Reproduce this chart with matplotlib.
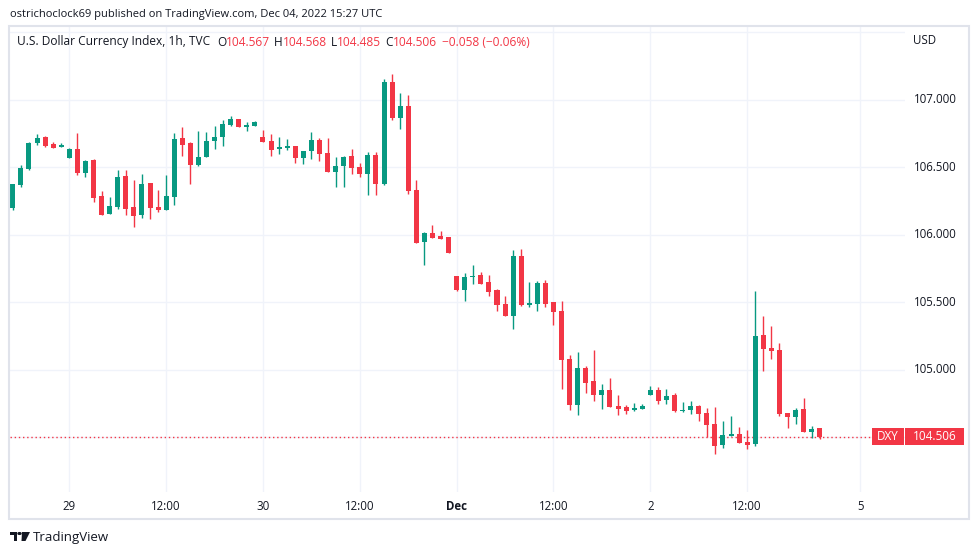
import numpy as np
import matplotlib
matplotlib.use("Agg")
import matplotlib.pyplot as plt
from matplotlib.patches import Rectangle, Polygon, Circle
from matplotlib.transforms import blended_transform_factory

# hourly DXY candles, Nov 28 17:00 -> Dec 2 21:00
opens = [106.200, 106.370, 106.489, 106.681, 106.726, 106.674, 106.652, 106.570, 106.637, 106.459,
         106.556, 106.289, 106.156, 106.207, 106.437, 106.207, 106.148, 106.385, 106.207, 106.185,
         106.281, 106.719, 106.681, 106.519, 106.578, 106.696, 106.726, 106.815, 106.859, 106.800,
         106.807, 106.726, 106.696, 106.637, 106.644, 106.659, 106.570, 106.622, 106.704, 106.607,
         106.467, 106.511, 106.585, 106.504, 106.452, 106.593, 106.378, 107.133, 106.867, 106.956,
         106.333, 105.948, 106.015, 105.993, 105.985, 105.696, 105.593, 105.689, 105.704, 105.652,
         105.593, 105.489, 105.400, 105.844, 105.481, 105.489, 105.644, 105.504, 105.437, 105.081,
         104.741, 105.015, 104.919, 104.815, 104.852, 104.733, 104.726, 104.704, 104.711, 104.815,
         104.852, 104.778, 104.815, 104.696, 104.704, 104.733, 104.681, 104.600, 104.444, 104.511,
         104.526, 104.467, 104.452, 105.259, 105.163, 105.148, 104.681, 104.652, 104.711, 104.541,
         104.567]
highs = [106.378, 106.519, 106.689, 106.748, 106.733, 106.689, 106.681, 106.644, 106.756, 106.556,
         106.563, 106.326, 106.281, 106.481, 106.481, 106.407, 106.452, 106.385, 106.333, 106.444,
         106.756, 106.800, 106.689, 106.770, 106.763, 106.807, 106.852, 106.881, 106.859, 106.837,
         106.844, 106.778, 106.748, 106.726, 106.711, 106.659, 106.622, 106.763, 106.719, 106.719,
         106.578, 106.585, 106.637, 106.533, 106.615, 106.615, 107.156, 107.193, 107.052, 107.037,
         106.407, 106.022, 106.074, 106.030, 105.985, 105.696, 105.719, 105.778, 105.726, 105.704,
         105.600, 105.548, 105.889, 105.896, 105.652, 105.659, 105.667, 105.504, 105.511, 105.111,
         105.133, 105.030, 105.148, 104.896, 104.941, 104.815, 104.741, 104.756, 104.748, 104.881,
         104.874, 104.859, 104.830, 104.763, 104.770, 104.741, 104.719, 104.726, 104.622, 104.659,
         104.578, 104.556, 105.585, 105.400, 105.326, 105.200, 104.681, 104.719, 104.793, 104.585,
         104.568]
lows = [106.185, 106.356, 106.481, 106.667, 106.652, 106.644, 106.652, 106.570, 106.444, 106.430,
        106.244, 106.148, 106.156, 106.193, 106.148, 106.059, 106.126, 106.119, 106.170, 106.185,
        106.222, 106.585, 106.378, 106.511, 106.578, 106.637, 106.659, 106.807, 106.800, 106.770,
        106.807, 106.689, 106.585, 106.600, 106.630, 106.533, 106.526, 106.563, 106.548, 106.467,
        106.356, 106.356, 106.452, 106.430, 106.296, 106.296, 106.370, 106.852, 106.785, 106.304,
        105.941, 105.778, 105.978, 105.970, 105.867, 105.585, 105.511, 105.637, 105.637, 105.548,
        105.437, 105.400, 105.304, 105.474, 105.467, 105.437, 105.467, 105.333, 104.859, 104.704,
        104.667, 104.830, 104.770, 104.711, 104.726, 104.667, 104.674, 104.696, 104.711, 104.815,
        104.748, 104.748, 104.689, 104.689, 104.674, 104.622, 104.504, 104.378, 104.422, 104.511,
        104.459, 104.415, 104.437, 104.993, 105.081, 104.659, 104.570, 104.600, 104.541, 104.496,
        104.485]
closes = [106.378, 106.496, 106.681, 106.719, 106.659, 106.644, 106.667, 106.637, 106.459, 106.548,
          106.274, 106.148, 106.215, 106.430, 106.193, 106.141, 106.378, 106.200, 106.185, 106.289,
          106.711, 106.667, 106.519, 106.578, 106.696, 106.726, 106.822, 106.859, 106.800, 106.815,
          106.837, 106.689, 106.630, 106.652, 106.659, 106.570, 106.622, 106.704, 106.600, 106.467,
          106.511, 106.578, 106.496, 106.452, 106.593, 106.378, 107.133, 106.867, 106.956, 106.326,
          105.941, 106.015, 105.978, 105.970, 105.867, 105.593, 105.689, 105.696, 105.637, 105.578,
          105.481, 105.400, 105.844, 105.481, 105.496, 105.644, 105.489, 105.430, 105.074, 104.741,
          105.015, 104.904, 104.815, 104.852, 104.726, 104.711, 104.696, 104.719, 104.733, 104.852,
          104.770, 104.807, 104.696, 104.704, 104.733, 104.674, 104.593, 104.437, 104.519, 104.526,
          104.459, 104.444, 105.252, 105.156, 105.141, 104.674, 104.652, 104.704, 104.541, 104.563,
          104.506]

time_ticks = [7, 19, 31, 43, 55, 67, 79, 91, 105]
time_labels = ["29", "12:00", "30", "12:00", "Dec", "12:00", "2", "12:00", "5"]
price_ticks = [105.0, 105.5, 106.0, 106.5, 107.0]
grid_prices = [104.5, 105.0, 105.5, 106.0, 106.5, 107.0, 107.5]
last_price = 104.506

UP = "#089981"
DOWN = "#f23645"
TXT = "#131722"
GRID = "#f0f3fa"
BORDER = "#e0e3eb"

plt.rcParams['font.family'] = ['Open Sans', 'DejaVu Sans']

W, H = 979, 555
fig = plt.figure(figsize=(W / 100, H / 100), dpi=100)
fig.patch.set_facecolor("white")


def fx(px):
    return px / W


def fy(py):
    return 1 - py / H


ax = fig.add_axes([fx(10), fy(492), fx(905) - fx(10), fy(26) - fy(492)])
ax.set_xlim(-0.35, 110.56)
ax.set_ylim(104.096, 107.548)
for s in ax.spines.values():
    s.set_visible(False)
ax.set_xticks(time_ticks)
ax.set_yticks(grid_prices)
ax.tick_params(length=0, labelleft=False, labelbottom=False)
ax.grid(True, color=GRID, lw=1)
ax.set_axisbelow(True)

o = np.array(opens)
h = np.array(highs)
l = np.array(lows)
c = np.array(closes)
idx = np.arange(len(o))
cols = [UP if cc >= oo else DOWN for oo, cc in zip(o, c)]
ax.vlines(idx, l, h, colors=cols, lw=1, zorder=2)
body = np.maximum(np.abs(c - o), 0.008)
ax.bar(idx, body, bottom=np.minimum(o, c), width=0.62, color=cols, lw=0, zorder=3)

ax.axhline(last_price, color=DOWN, lw=1, ls=(0, (1, 2)), zorder=1)

# time axis labels
bt = blended_transform_factory(ax.transData, fig.transFigure)
for t, lab in zip(time_ticks, time_labels):
    ax.text(t, fy(506), lab, transform=bt, ha="center", va="center",
            fontsize=8.3, color=TXT, fontweight="bold" if lab == "Dec" else "normal",
            clip_on=False)

# price scale labels
bp = blended_transform_factory(fig.transFigure, ax.transData)
for p in price_ticks:
    fig.text(fx(914), p, "%.3f" % p, transform=bp, ha="left", va="center",
             fontsize=8.3, color=TXT)
fig.text(fx(913), fy(40), "USD", ha="left", va="center", fontsize=8.3, color=TXT)

# last price tag
fig.patches.append(Rectangle((fx(872), fy(445)), fx(904) - fx(872), fy(428) - fy(445),
                             transform=fig.transFigure, color=DOWN, lw=0, zorder=5))
fig.patches.append(Rectangle((fx(905), fy(445)), fx(964) - fx(905), fy(428) - fy(445),
                             transform=fig.transFigure, color=DOWN, lw=0, zorder=5))
fig.text(fx(888), fy(436.5), "DXY", ha="center", va="center", fontsize=8.5, color="white", zorder=6)
fig.text(fx(934.5), fy(436.5), "%.3f" % last_price, ha="center", va="center",
         fontsize=8.5, color="white", zorder=6)

# pane border
fig.patches.append(Rectangle((fx(9), fy(519)), fx(969) - fx(9), fy(26) - fy(519),
                             transform=fig.transFigure, fill=False, edgecolor=BORDER,
                             lw=1.5, zorder=4))

# header
fig.text(fx(10), fy(14), "ostrichoclock69 published on TradingView.com, Dec 04, 2022 15:27 UTC",
         ha="left", va="center", fontsize=8.0, color=TXT)

# legend line, drawn piece by piece
fig.canvas.draw()
rend = fig.canvas.get_renderer()
pieces = [("U.S. Dollar Currency Index, 1h, TVC", TXT, 7), ("O", TXT, 0), ("104.567", DOWN, 4),
          ("H", TXT, 0), ("104.568", DOWN, 4), ("L", TXT, 0), ("104.485", DOWN, 4),
          ("C", TXT, 0), ("104.506", DOWN, 5), ("\u22120.058 (\u22120.06%)", DOWN, 0)]
xpos = 17
for txt, col, gap in pieces:
    t = fig.text(fx(xpos), fy(42), txt, ha="left", va="center", fontsize=8.6, color=col)
    xpos += t.get_window_extent(rend).width + gap

# footer logo
fig.patches.append(Rectangle((fx(10), fy(535)), fx(17) - fx(10), fy(532) - fy(535),
                             transform=fig.transFigure, color=TXT, lw=0))
fig.patches.append(Rectangle((fx(14), fy(541)), fx(17) - fx(14), fy(532) - fy(541),
                             transform=fig.transFigure, color=TXT, lw=0))
fig.patches.append(Circle((fx(19.5), fy(533.5)), 1.5 / W, transform=fig.transFigure, color=TXT))
fig.patches.append(Polygon([(fx(22), fy(532)), (fx(30), fy(532)), (fx(25.5), fy(541)), (fx(21.5), fy(541))],
                           closed=True, transform=fig.transFigure, color=TXT, lw=0))
fig.text(fx(33), fy(537), "TradingView", ha="left", va="center", fontsize=9.5, color=TXT)

fig.savefig("out.png", dpi=100)
